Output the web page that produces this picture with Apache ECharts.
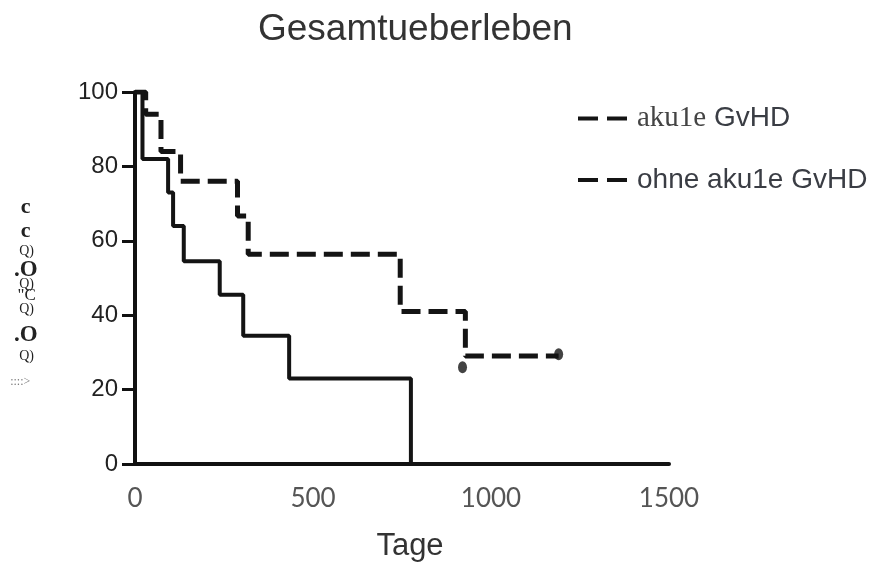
<!DOCTYPE html>
<html>
<head>
<meta charset="utf-8">
<script src="https://cdn.jsdelivr.net/npm/echarts@6/dist/echarts.min.js"></script>
<style>html,body{margin:0;padding:0;background:#fff}#c{width:879px;height:564px}</style>
</head>
<body>
<div id="c"></div>
<script>
// ---- data ----
const titleText = 'Gesamtueberleben';
const xAxisName = 'Tage';
const seriesNames = ['aku1e GvHD', 'ohne aku1e GvHD'];
const yTicks = [0, 20, 40, 60, 80, 100];
const xTicks = [0, 500, 1000, 1500];
// solid curve (Kaplan-Meier steps)
const solidDays = [0, 21, 93, 107, 137, 238, 304, 433, 775, 1500];
const solidSurv = [100, 82, 73, 64, 54.5, 45.5, 34.5, 23, 0, 0];
// dashed curve
const dashedDays = [0, 30, 73, 128, 288, 318, 745, 928, 1190];
const dashedSurv = [100, 94, 84, 76, 66.7, 56.4, 41, 29, 29];
// censor marks
const censorDays = [920, 1190];
const censorSurv = [26, 29.5];
// garbled vertical y-axis label glyphs (top to bottom)
const yNameGlyphs = ['c', 'c', 'Q)', '.O', 'Q)', '"C', 'Q)', '.O', 'Q)', '::::>'];

// ---- layout (not data) ----
const glyphLayout = [
  {y: 207, size: 22, bold: true},
  {y: 231, size: 22, bold: true},
  {y: 251, size: 14, bold: false},
  {y: 270, size: 23, bold: true},
  {y: 284, size: 14, bold: false},
  {y: 296, size: 17, bold: false},
  {y: 309, size: 14, bold: false},
  {y: 335, size: 23, bold: true},
  {y: 356, size: 14, bold: false},
  {y: 382, size: 12, bold: false}
];

const zip = (a, b) => a.map((v, i) => [v, b[i]]);
const chart = echarts.init(document.getElementById('c'));

const graphic = yNameGlyphs.map((g, i) => ({
  type: 'text',
  left: 27 - (g.length * glyphLayout[i].size * 0.28),
  top: glyphLayout[i].y - glyphLayout[i].size / 2,
  style: {
    text: g,
    font: (glyphLayout[i].bold ? 'bold ' : '') + glyphLayout[i].size + 'px "Liberation Serif"',
    fill: i === yNameGlyphs.length - 1 ? '#777' : '#222'
  }
}));

const dashIcon = 'path://M0,0h20v4h-20z M29,0h20v4h-20z';

chart.setOption({
  animation: false,
  backgroundColor: '#fff',
  title: {
    text: titleText,
    left: 253,
    top: 6,
    textStyle: {fontFamily: 'Liberation Sans', fontSize: 37, fontWeight: 'normal', color: '#333'}
  },
  legend: {
    data: seriesNames.map(n => ({name: n, icon: dashIcon})),
    orient: 'vertical',
    left: 573,
    top: 99,
    itemGap: 33,
    itemWidth: 49,
    itemHeight: 4,
    formatter: name => name === seriesNames[0] ? '{s|aku1e} GvHD' : name,
    textStyle: {
      fontFamily: 'Liberation Sans', fontSize: 28, color: '#3a3d44',
      padding: [0, 0, 0, 5],
      rich: {s: {fontFamily: 'Liberation Serif', fontSize: 29, color: '#444'}}
    }
  },
  graphic: graphic,
  grid: {left: 135, right: 210, top: 92, bottom: 100, containLabel: false, outerBoundsMode: 'none'},
  xAxis: {
    type: 'value',
    min: xTicks[0],
    max: xTicks[xTicks.length - 1],
    interval: 500,
    name: xAxisName,
    nameLocation: 'middle',
    nameGap: 67,
    nameTextStyle: {fontFamily: 'Liberation Sans', fontSize: 31, color: '#333', padding: [0, 0, 0, 16]},
    axisLine: {lineStyle: {color: '#111', width: 4}},
    axisTick: {show: false},
    splitLine: {show: false},
    axisLabel: {margin: 22, fontFamily: 'Lato', fontSize: 26, color: '#555', formatter: v => String(v)}
  },
  yAxis: {
    type: 'value',
    min: yTicks[0],
    max: yTicks[yTicks.length - 1],
    interval: 20,
    axisLine: {show: true, lineStyle: {color: '#111', width: 4}},
    axisTick: {show: true, length: 13, lineStyle: {color: '#111', width: 3}},
    splitLine: {show: false},
    axisLabel: {margin: 17, fontFamily: 'Liberation Sans', fontSize: 24, color: '#222', formatter: v => String(v)}
  },
  series: [
    {
      name: seriesNames[0],
      type: 'line',
      step: 'end',
      symbol: 'none',
      data: zip(solidDays, solidSurv),
      lineStyle: {color: '#141414', width: 4},
      itemStyle: {color: '#141414'},
      z: 3
    },
    {
      name: seriesNames[1],
      type: 'line',
      step: 'end',
      symbol: 'none',
      data: zip(dashedDays, dashedSurv),
      lineStyle: {color: '#141414', width: 5, type: [19, 8]},
      itemStyle: {color: '#141414'},
      z: 2
    },
    {
      name: 'zensiert',
      type: 'scatter',
      symbol: 'circle',
      symbolSize: [9, 12],
      data: zip(censorDays, censorSurv),
      itemStyle: {color: '#141414'},
      z: 4
    }
  ]
});
</script>
</body>
</html>
